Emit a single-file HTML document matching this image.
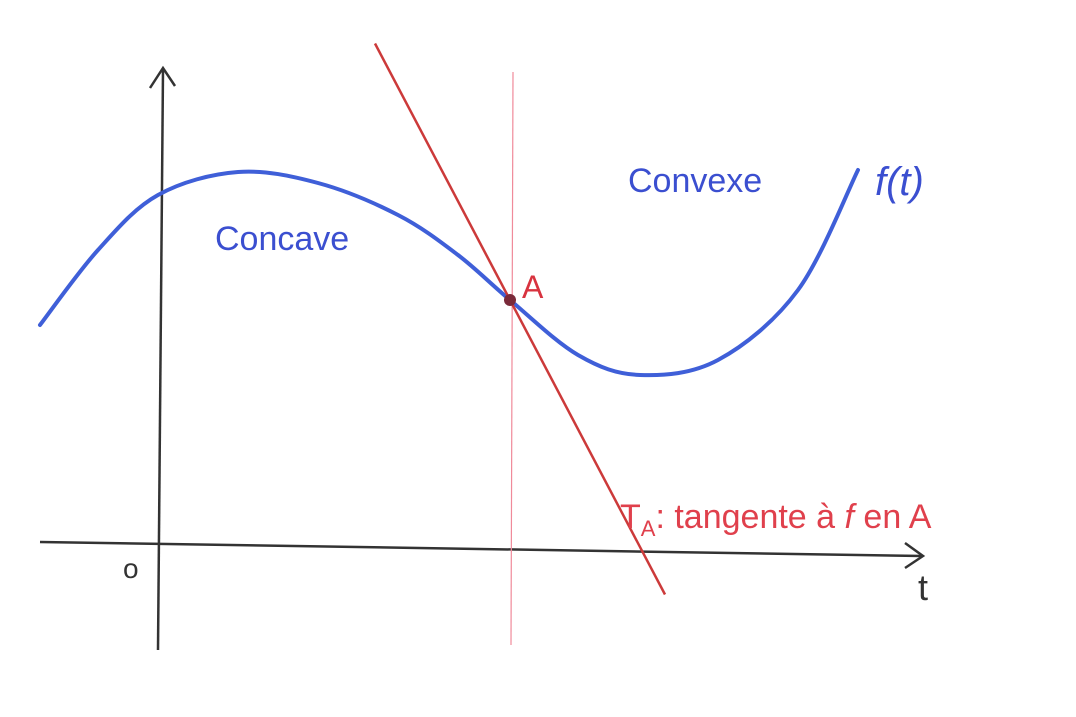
<!DOCTYPE html>
<html><head><meta charset="utf-8"><style>
html,body{margin:0;padding:0;background:#fff;}
svg{display:block;}
text{font-family:"Liberation Sans",sans-serif;}
</style></head><body>
<svg id="chart" width="1076" height="717" viewBox="0 0 1076 717">
  <g id="axes">
    <line x1="158" y1="650" x2="163" y2="70" stroke="#333" stroke-width="2.5"/>
    <polyline points="150,88 163,68 175,86" fill="none" stroke="#333" stroke-width="2.5"/>
    <line x1="40" y1="542" x2="922" y2="556" stroke="#333" stroke-width="2.5"/>
    <polyline points="905,543 923,556 905,568" fill="none" stroke="#333" stroke-width="2.5"/>
    <text x="123" y="578" font-size="28" fill="#333">o</text>
    <text x="918" y="600" font-size="36" fill="#333">t</text>
  </g>
  <line x1="513" y1="72" x2="511" y2="645" stroke="#f08a9a" stroke-width="1.2"/>
  <g id="plot"></g>
  <text x="215" y="250" font-size="34" fill="#3b4fd0">Concave</text>
  <text x="628" y="192" font-size="34" fill="#3b4fd0">Convexe</text>
  <text x="875" y="195" font-size="40" font-style="italic" fill="#3b4fd0">f(t)</text>
  <text x="522" y="298" font-size="32" fill="#d8333f">A</text>
  <text x="620" y="528" font-size="34" fill="#e0404c">T<tspan font-size="22" dy="8">A</tspan><tspan dy="-8">: tangente à </tspan><tspan font-style="italic">f</tspan> en A</text>
</svg>
<script>
const tValues = [-118, -60, 0, 80, 160, 240, 300, 352, 420, 482, 560, 640, 700];
const fValues = [220, 295, 350, 373, 362, 330, 290, 245, 190, 170, 185, 255, 375];
const pointA = [352, 245];
const tangentSlope = -1.9;
const tangentRange = [217, 507];

function xScale(t){ return 158 + t; }
function yScale(v){ return 545 - v; }

const NS = "http://www.w3.org/2000/svg";
const g = document.getElementById('plot');
const pts = tValues.map((t,i)=>[xScale(t), yScale(fValues[i])]);
let d = "M" + pts[0][0] + "," + pts[0][1];
for (let i=0;i<pts.length-1;i++){
  const p0 = pts[Math.max(0,i-1)], p1 = pts[i], p2 = pts[i+1], p3 = pts[Math.min(pts.length-1,i+2)];
  const c1x = p1[0] + (p2[0]-p0[0])/6, c1y = p1[1] + (p2[1]-p0[1])/6;
  const c2x = p2[0] - (p3[0]-p1[0])/6, c2y = p2[1] - (p3[1]-p1[1])/6;
  d += " C" + c1x + "," + c1y + " " + c2x + "," + c2y + " " + p2[0] + "," + p2[1];
}
const curve = document.createElementNS(NS,'path');
curve.setAttribute('d', d);
curve.setAttribute('fill','none');
curve.setAttribute('stroke','#3f5fd8');
curve.setAttribute('stroke-width','4');
curve.setAttribute('stroke-linecap','round');


g.appendChild(curve);

const tan = document.createElementNS(NS,'line');
const ty = t => pointA[1] + tangentSlope*(t-pointA[0]);
tan.setAttribute('x1', xScale(tangentRange[0]));
tan.setAttribute('y1', yScale(ty(tangentRange[0])));
tan.setAttribute('x2', xScale(tangentRange[1]));
tan.setAttribute('y2', yScale(ty(tangentRange[1])));
tan.setAttribute('stroke','#cc3a3a');
tan.setAttribute('stroke-width','2.5');


g.appendChild(tan);

const dot = document.createElementNS(NS,'circle');
dot.setAttribute('cx', xScale(pointA[0]));
dot.setAttribute('cy', yScale(pointA[1]));
dot.setAttribute('r', '6');
dot.setAttribute('fill', '#7a2a3a');


g.appendChild(dot);
</script>
</body></html>
